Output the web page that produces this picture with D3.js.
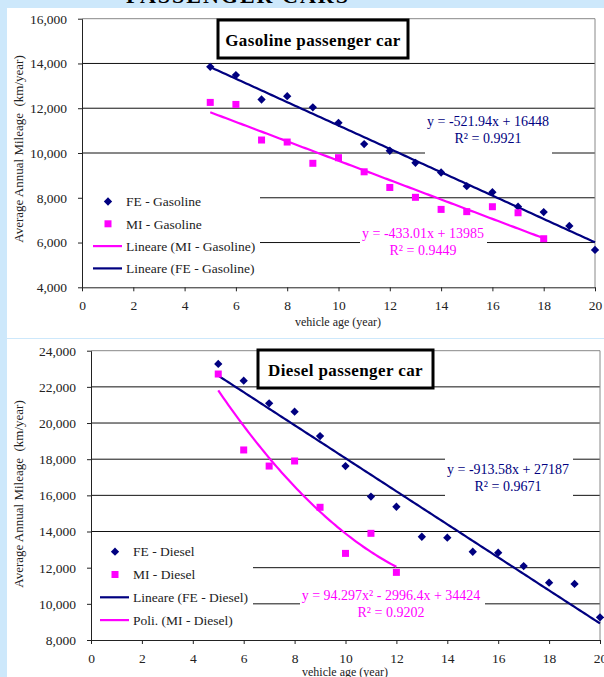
<!DOCTYPE html>
<html>
<head>
<meta charset="utf-8">
<script src="https://cdn.jsdelivr.net/npm/d3@7"></script>
<style>
  body { margin: 0; background: #cde8fb; }
  svg { display: block; font-family: "Liberation Serif", "Times New Roman", serif; }
</style>
</head>
<body>
<svg id="chart" width="604" height="677"></svg>
<script>
// vehicle age (years)
const ageGas = [5, 6, 7, 8, 9, 10, 11, 12, 13, 14, 15, 16, 17, 18, 19, 20];
const feGasoline = [13850, 13480, 12390, 12540, 12040, 11350, 10400, 10100, 9560, 9130, 8520, 8250, 7600, 7360, 6740, 5670];
const miGasAge = [5, 6, 7, 8, 9, 10, 11, 12, 13, 14, 15, 16, 17, 18];
const miGasoline = [12260, 12170, 10580, 10490, 9540, 9790, 9160, 8460, 8020, 7480, 7380, 7600, 7330, 6170];

const ageDiesel = [5, 6, 7, 8, 9, 10, 11, 12, 13, 14, 15, 16, 17, 18, 19, 20];
const feDiesel = [23270, 22340, 21090, 20630, 19280, 17620, 15930, 15370, 13710, 13660, 12880, 12830, 12090, 11170, 11100, 9255];
const miDieselAge = [5, 6, 7, 8, 9, 10, 11, 12];
const miDiesel = [22710, 18510, 17620, 17900, 15340, 12790, 13900, 11740];

// trend line coefficients (highest power first)
const trendFeGas = [-521.94, 16448];
const trendMiGas = [-433.01, 13985];
const trendFeDiesel = [-913.58, 27187];
const trendMiDiesel = [94.297, -2996.4, 34424];

const xTicks = [0, 2, 4, 6, 8, 10, 12, 14, 16, 18, 20];
const gasYTicks = [4000, 6000, 8000, 10000, 12000, 14000, 16000];
const dieselYTicks = [8000, 10000, 12000, 14000, 16000, 18000, 20000, 22000, 24000];

const navy = "#000080", pink = "#ff00ff";

const svg = d3.select("#chart");

// banner text cut at the top of the page
svg.append("text").attr("x", 238).attr("y", 3)
  .attr("text-anchor", "middle").attr("font-weight", "bold").attr("font-size", 22)
  .attr("letter-spacing", 2).text("PASSENGER CARS");

function poly(c, x) { return c.reduce((a, k) => a * x + k, 0); }

function drawPanel(p) {
  const g = svg.append("g");
  g.append("rect").attr("x", 7).attr("y", p.top).attr("width", 597).attr("height", p.bottom - p.top).attr("fill", "#fff");

  const x = d3.scaleLinear().domain([0, 20]).range([p.x0, p.x1]);
  const y = d3.scaleLinear().domain(p.yDomain).range([p.y0, p.y1]);

  // gridlines
  g.append("g").selectAll("line").data(p.yTicks.slice(1, -1)).join("line")
    .attr("x1", p.x0).attr("x2", p.x1).attr("y1", d => y(d)).attr("y2", d => y(d))
    .attr("stroke", "#111").attr("stroke-width", 1);
  // frame top/right
  g.append("path").attr("d", `M${p.x0},${y(p.yDomain[1])}H${p.x1}V${p.y0}`)
    .attr("fill", "none").attr("stroke", "#888");

  // white boxes behind equation and legend texts
  p.boxes.forEach(b => g.append("rect").attr("x", b[0]).attr("y", b[1]).attr("width", b[2]).attr("height", b[3]).attr("fill", "#fff"));

  // axes
  const xa = g.append("g").attr("transform", `translate(0,${p.y0})`)
    .call(d3.axisBottom(x).tickValues(xTicks).tickSize(4).tickSizeOuter(0).tickPadding(9));
  const ya = g.append("g").attr("transform", `translate(${p.x0},0)`)
    .call(d3.axisLeft(y).tickValues(p.yTicks).tickFormat(d3.format(",")).tickSize(4).tickSizeOuter(0).tickPadding(11));
  [xa, ya].forEach(a => {
    a.attr("font-family", null).attr("font-size", 13.5);
    a.selectAll("text").attr("fill", "#222");
    a.select(".domain").attr("stroke", "#222");
    a.selectAll(".tick line").attr("stroke", "#222");
  });

  const line = d3.line().x(d => x(d[0])).y(d => y(d[1]));
  p.trends.forEach(t => {
    const pts = d3.range(t.from, t.to + 0.001, 0.1).map(v => [v, poly(t.coef, v)]);
    g.append("path").datum(pts).attr("d", line).attr("fill", "none")
      .attr("stroke", t.color).attr("stroke-width", 2.2);
  });

  g.append("g").selectAll("path").data(p.fe.ages).join("path")
    .attr("transform", (d, i) => `translate(${x(d)},${y(p.fe.values[i])})`)
    .attr("d", d3.symbol(d3.symbolDiamond2, 44)()).attr("fill", navy);
  g.append("g").selectAll("rect").data(p.mi.ages).join("rect")
    .attr("x", d => x(d) - 3.5).attr("y", (d, i) => y(p.mi.values[i]) - 3.5)
    .attr("width", 7).attr("height", 7).attr("fill", pink);

  // trend equations
  p.eqs.forEach(e => {
    e.lines.forEach((l, i) => {
      g.append("text").attr("x", e.x).attr("y", e.y + i * 17).attr("text-anchor", "middle")
        .attr("font-size", 14).attr("fill", e.color).text(l);
    });
  });

  // title box
  g.append("rect").attr("x", p.title.x).attr("y", p.title.y).attr("width", p.title.w).attr("height", 38)
    .attr("fill", "#fff").attr("stroke", "#000").attr("stroke-width", 3);
  g.append("text").attr("x", p.title.x + p.title.w / 2).attr("y", p.title.y + 26)
    .attr("text-anchor", "middle").attr("font-weight", "bold").attr("font-size", 17)
    .attr("letter-spacing", 0.4).text(p.title.text);

  // legend
  const lg = g.append("g").attr("font-size", 13.5).attr("fill", "#222");
  p.legend.items.forEach((it, i) => {
    const cy = p.legend.y + i * p.legend.step;
    if (it.type === "diamond") lg.append("path").attr("transform", `translate(${p.legend.sx},${cy})`)
      .attr("d", d3.symbol(d3.symbolDiamond2, 44)()).attr("fill", navy);
    else if (it.type === "square") lg.append("rect").attr("x", p.legend.sx - 3.5).attr("y", cy - 3.5)
      .attr("width", 7).attr("height", 7).attr("fill", pink);
    else lg.append("line").attr("x1", p.legend.sx - 15).attr("x2", p.legend.sx + 14)
      .attr("y1", cy).attr("y2", cy).attr("stroke", it.color).attr("stroke-width", 2.2);
    lg.append("text").attr("x", p.legend.tx).attr("y", cy).attr("dy", "0.35em").text(it.label);
  });

  // axis titles
  g.append("text").attr("x", p.xTitle[0]).attr("y", p.xTitle[1]).attr("text-anchor", "middle")
    .attr("font-size", 12).attr("fill", "#222").text("vehicle age (year)");
  g.append("text").attr("transform", `translate(${p.yTitle[0]},${p.yTitle[1]}) rotate(-90)`)
    .attr("text-anchor", "middle").attr("font-size", 13).attr("fill", "#222")
    .attr("xml:space", "preserve").text("Average Annual Mileage  (km/year)");
}

drawPanel({
  top: 8, bottom: 338,
  x0: 82, x1: 595, y0: 287.3, y1: 18.7, yDomain: [4000, 16000], yTicks: gasYTicks,
  fe: { ages: ageGas, values: feGasoline }, mi: { ages: miGasAge, values: miGasoline },
  trends: [
    { coef: trendMiGas, from: 5, to: 18, color: pink },
    { coef: trendFeGas, from: 5, to: 20, color: navy }
  ],
  boxes: [[83, 186, 177, 96], [425, 112, 127, 46], [360, 225, 127, 45]],
  eqs: [
    { x: 488, y: 126, color: navy, lines: ["y = -521.94x + 16448", "R² = 0.9921"] },
    { x: 423, y: 238, color: pink, lines: ["y = -433.01x + 13985", "R² = 0.9449"] }
  ],
  title: { x: 218, y: 20, w: 190, text: "Gasoline passenger car" },
  legend: { sx: 108, tx: 126, y: 201.5, step: 22.3, items: [
    { type: "diamond", label: "FE - Gasoline" },
    { type: "square", label: "MI - Gasoline" },
    { type: "line", color: pink, label: "Lineare (MI - Gasoline)" },
    { type: "line", color: navy, label: "Lineare (FE - Gasoline)" }
  ] },
  xTitle: [338, 326], yTitle: [23, 149]
});

drawPanel({
  top: 339, bottom: 677,
  x0: 91, x1: 600, y0: 640, y1: 350.7, yDomain: [8000, 24000], yTicks: dieselYTicks,
  fe: { ages: ageDiesel, values: feDiesel }, mi: { ages: miDieselAge, values: miDiesel },
  trends: [
    { coef: trendFeDiesel, from: 5, to: 20, color: navy },
    { coef: trendMiDiesel, from: 5, to: 12, color: pink }
  ],
  boxes: [[92, 541, 161, 92], [445, 452, 128, 48], [300, 582, 185, 44]],
  eqs: [
    { x: 508, y: 474, color: navy, lines: ["y = -913.58x + 27187", "R² = 0.9671"] },
    { x: 391, y: 600, color: pink, lines: ["y = 94.297x² - 2996.4x + 34424", "R² = 0.9202"] }
  ],
  title: { x: 258, y: 350, w: 175, text: "Diesel passenger car" },
  legend: { sx: 115, tx: 133, y: 551.7, step: 22.8, items: [
    { type: "diamond", label: "FE - Diesel" },
    { type: "square", label: "MI - Diesel" },
    { type: "line", color: navy, label: "Lineare (FE - Diesel)" },
    { type: "line", color: pink, label: "Poli. (MI - Diesel)" }
  ] },
  xTitle: [345, 676], yTitle: [23, 494]
});
</script>
</body>
</html>
